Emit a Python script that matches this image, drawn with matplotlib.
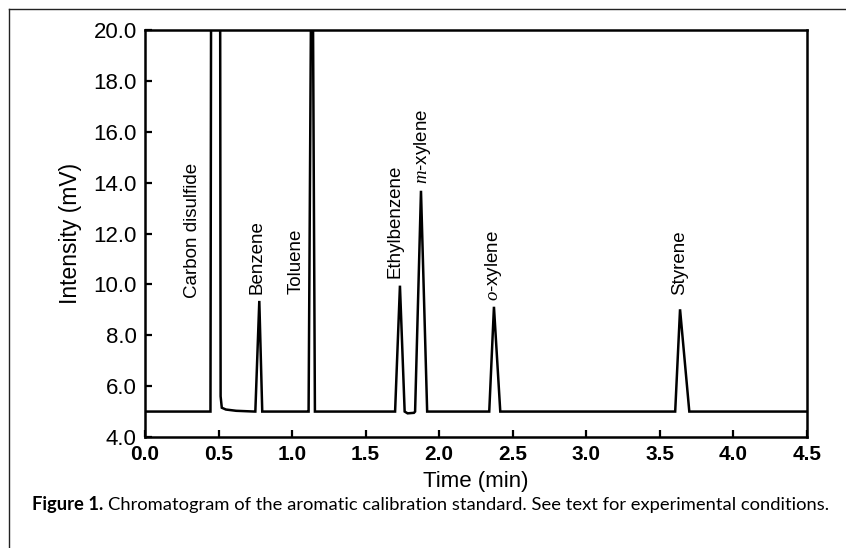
import matplotlib
matplotlib.use("Agg")
import matplotlib.pyplot as plt
from matplotlib.lines import Line2D

plt.rcParams['font.family'] = ['Liberation Sans', 'DejaVu Sans']
plt.rcParams['mathtext.fontset'] = 'custom'
plt.rcParams['mathtext.it'] = 'Liberation Serif:italic'
plt.rcParams['mathtext.rm'] = 'Liberation Sans'

# chromatogram trace, vertices (min, mV)
time_min = [0.0, 0.445, 0.449, 0.451, 0.511, 0.514, 0.522, 0.55, 0.62, 0.745,
            0.750, 0.777, 0.797, 1.105,
            1.112, 1.128, 1.142, 1.155, 1.170,
            1.700, 1.733, 1.765, 1.785, 1.828,
            1.836, 1.876, 1.918, 2.336,
            2.340, 2.372, 2.415, 2.440, 3.598,
            3.604, 3.637, 3.700, 3.730, 4.5]
intensity_mv = [5.0, 5.0, 20.5, 20.5, 20.5, 5.6, 5.15, 5.08, 5.03, 5.0,
                5.0, 9.35, 5.0, 5.0,
                5.0, 20.5, 20.5, 5.0, 5.0,
                5.0, 9.95, 5.0, 4.93, 4.95,
                5.0, 13.68, 5.0, 5.0,
                5.0, 9.12, 5.0, 5.0, 5.0,
                5.0, 9.02, 5.0, 5.0, 5.0]

peak_names = ['Carbon disulfide', 'Benzene', 'Toluene', 'Ethylbenzene',
              '$m$-xylene', '$o$-xylene', 'Styrene']
label_x = [0.326, 0.764, 1.024, 1.700, 1.888, 2.368, 3.637]
label_y = [9.45, 9.62, 9.62, 10.25, 13.95, 9.35, 9.58]

x_ticks = [0.0, 0.5, 1.0, 1.5, 2.0, 2.5, 3.0, 3.5, 4.0, 4.5]
y_ticks = [4.0, 6.0, 8.0, 10.0, 12.0, 14.0, 16.0, 18.0, 20.0]

caption_bold = 'Figure 1.'
caption_text = 'Chromatogram of the aromatic calibration standard. See text for experimental conditions.'

fig = plt.figure(figsize=(8.46, 5.48), dpi=100)
ax = fig.add_axes([145 / 846, 111 / 548, 662 / 846, 407 / 548])

ax.plot(time_min, intensity_mv, color='black', lw=1.8, solid_joinstyle='miter')
ax.set_xlim(0.0, 4.5)
ax.set_ylim(4.0, 20.0)

ax.set_xticks(x_ticks)
ax.set_xticklabels(['%.1f' % t for t in x_ticks], weight='bold', fontsize=15)
ax.set_yticks(y_ticks)
ax.set_yticklabels(['%.1f' % v for v in y_ticks], fontsize=16)
ax.tick_params(direction='in', length=5, width=1.6, color='black')
ax.tick_params(axis='x', pad=6)
ax.tick_params(axis='y', pad=6)
for s in ax.spines.values():
    s.set_linewidth(1.8)

ax.set_xlabel('Time (min)', fontsize=16, labelpad=5)
ax.set_ylabel('Intensity (mV)', fontsize=16.5, labelpad=8)

for name, x, y in zip(peak_names, label_x, label_y):
    ax.text(x, y, name, rotation=90, ha='center', va='bottom', fontsize=13.5)

# caption: one font size, sized so the line spans x = 32..828 px as in the reference
renderer = fig.canvas.get_renderer()
t1 = fig.text(32 / 846, 38 / 548, caption_bold, family=['Lato', 'DejaVu Sans'],
              weight='bold', fontsize=15, va='baseline')
t2 = fig.text(91 / 846, 38 / 548, caption_text,
              family=['Lato', 'DejaVu Sans'], fontsize=15, va='baseline')
w1 = t1.get_window_extent(renderer).width
w2 = t2.get_window_extent(renderer).width
gap = 5
fs = 15 * (796 - gap) / (w1 + w2)
t1.set_fontsize(fs)
t2.set_fontsize(fs)
t2.set_x((32 + w1 * fs / 15 + gap) / 846)

# frame around figure (top and left edges)
fig.add_artist(Line2D([9 / 846, 1.0], [539 / 548, 539 / 548], color='#222222', lw=1.0))
fig.add_artist(Line2D([9 / 846, 9 / 846], [0.0, 539 / 548], color='#222222', lw=1.0))

fig.savefig('out.png', dpi=100)
